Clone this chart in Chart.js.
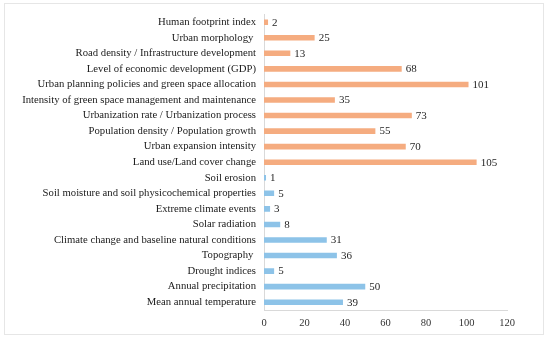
<!DOCTYPE html>
<html><head><meta charset="utf-8">
<script src="https://cdn.jsdelivr.net/npm/chart.js@4/dist/chart.umd.min.js"></script>
<style>
html,body{margin:0;padding:0;background:#fff;}
#wrap{position:relative;width:550px;height:340px;}
#frame{position:absolute;left:4px;top:3px;width:540px;height:332px;border:1px solid #e6e6e6;box-sizing:border-box;pointer-events:none;}
canvas{position:absolute;left:0;top:0;}
</style></head>
<body>
<div id="wrap"><canvas id="c" width="550" height="340"></canvas><div id="frame"></div></div>
<script>
const categories = [
  "Human footprint index",
  "Urban morphology ",
  "Road density / Infrastructure development",
  "Level of economic development (GDP)",
  "Urban planning policies and green space allocation",
  "Intensity of green space management and maintenance",
  "Urbanization rate / Urbanization process",
  "Population density / Population growth",
  "Urban expansion intensity",
  "Land use/Land cover change",
  "Soil erosion",
  "Soil moisture and soil physicochemical properties",
  "Extreme climate events",
  "Solar radiation",
  "Climate change and baseline natural conditions",
  "Topography ",
  "Drought indices",
  "Annual precipitation",
  "Mean annual temperature"
];
const counts = [2, 25, 13, 68, 101, 35, 73, 55, 70, 105, 1, 5, 3, 8, 31, 36, 5, 50, 39];
const groups = ["human","human","human","human","human","human","human","human","human","human",
                "natural","natural","natural","natural","natural","natural","natural","natural","natural"];
const xTicks = [0, 20, 40, 60, 80, 100, 120];

const groupColors = { human: "#F5AC80", natural: "#8DC3E8" };
const FONT = "'Liberation Serif', 'Times New Roman', serif";

const labelPlugin = {
  id: "valueLabels",
  afterDatasetsDraw(chart) {
    const ctx = chart.ctx;
    ctx.save();
    ctx.font = "11px " + FONT;
    ctx.fillStyle = "#262626";
    ctx.textAlign = "left";
    ctx.textBaseline = "middle";
    chart.getDatasetMeta(0).data.forEach((bar, i) => {
      ctx.fillText(String(counts[i]), bar.x + 4, bar.y + 0.5);
    });
    ctx.restore();
  }
};

new Chart(document.getElementById("c"), {
  type: "bar",
  data: {
    labels: categories,
    datasets: [{
      data: counts,
      backgroundColor: groups.map(g => groupColors[g]),
      borderWidth: 0,
      barPercentage: 0.36,
      categoryPercentage: 1.0
    }]
  },
  options: {
    indexAxis: "y",
    responsive: false,
    animation: false,
    devicePixelRatio: 1,
    layout: { padding: { top: 9, right: 43, bottom: 0, left: 0 } },
    plugins: { legend: { display: false }, tooltip: { enabled: false } },
    scales: {
      x: {
        min: 0, max: 120,
        afterBuildTicks(scale) { scale.ticks = xTicks.map(v => ({ value: v })); },
        afterFit(scale) { scale.height = 30; },
        grid: { display: false, drawTicks: false },
        border: { display: true, color: "#d9d9d9", width: 1 },
        ticks: { color: "#333", font: { family: FONT, size: 10.5 }, padding: 7 }
      },
      y: {
        afterFit(scale) { scale.width = 264; },
        grid: { display: false, drawTicks: false },
        border: { display: true, color: "#d9d9d9", width: 1 },
        ticks: { color: "#1a1a1a", font: { family: FONT, size: 10.7 }, padding: 8, autoSkip: false }
      }
    }
  },
  plugins: [labelPlugin]
});
</script>
</body></html>
